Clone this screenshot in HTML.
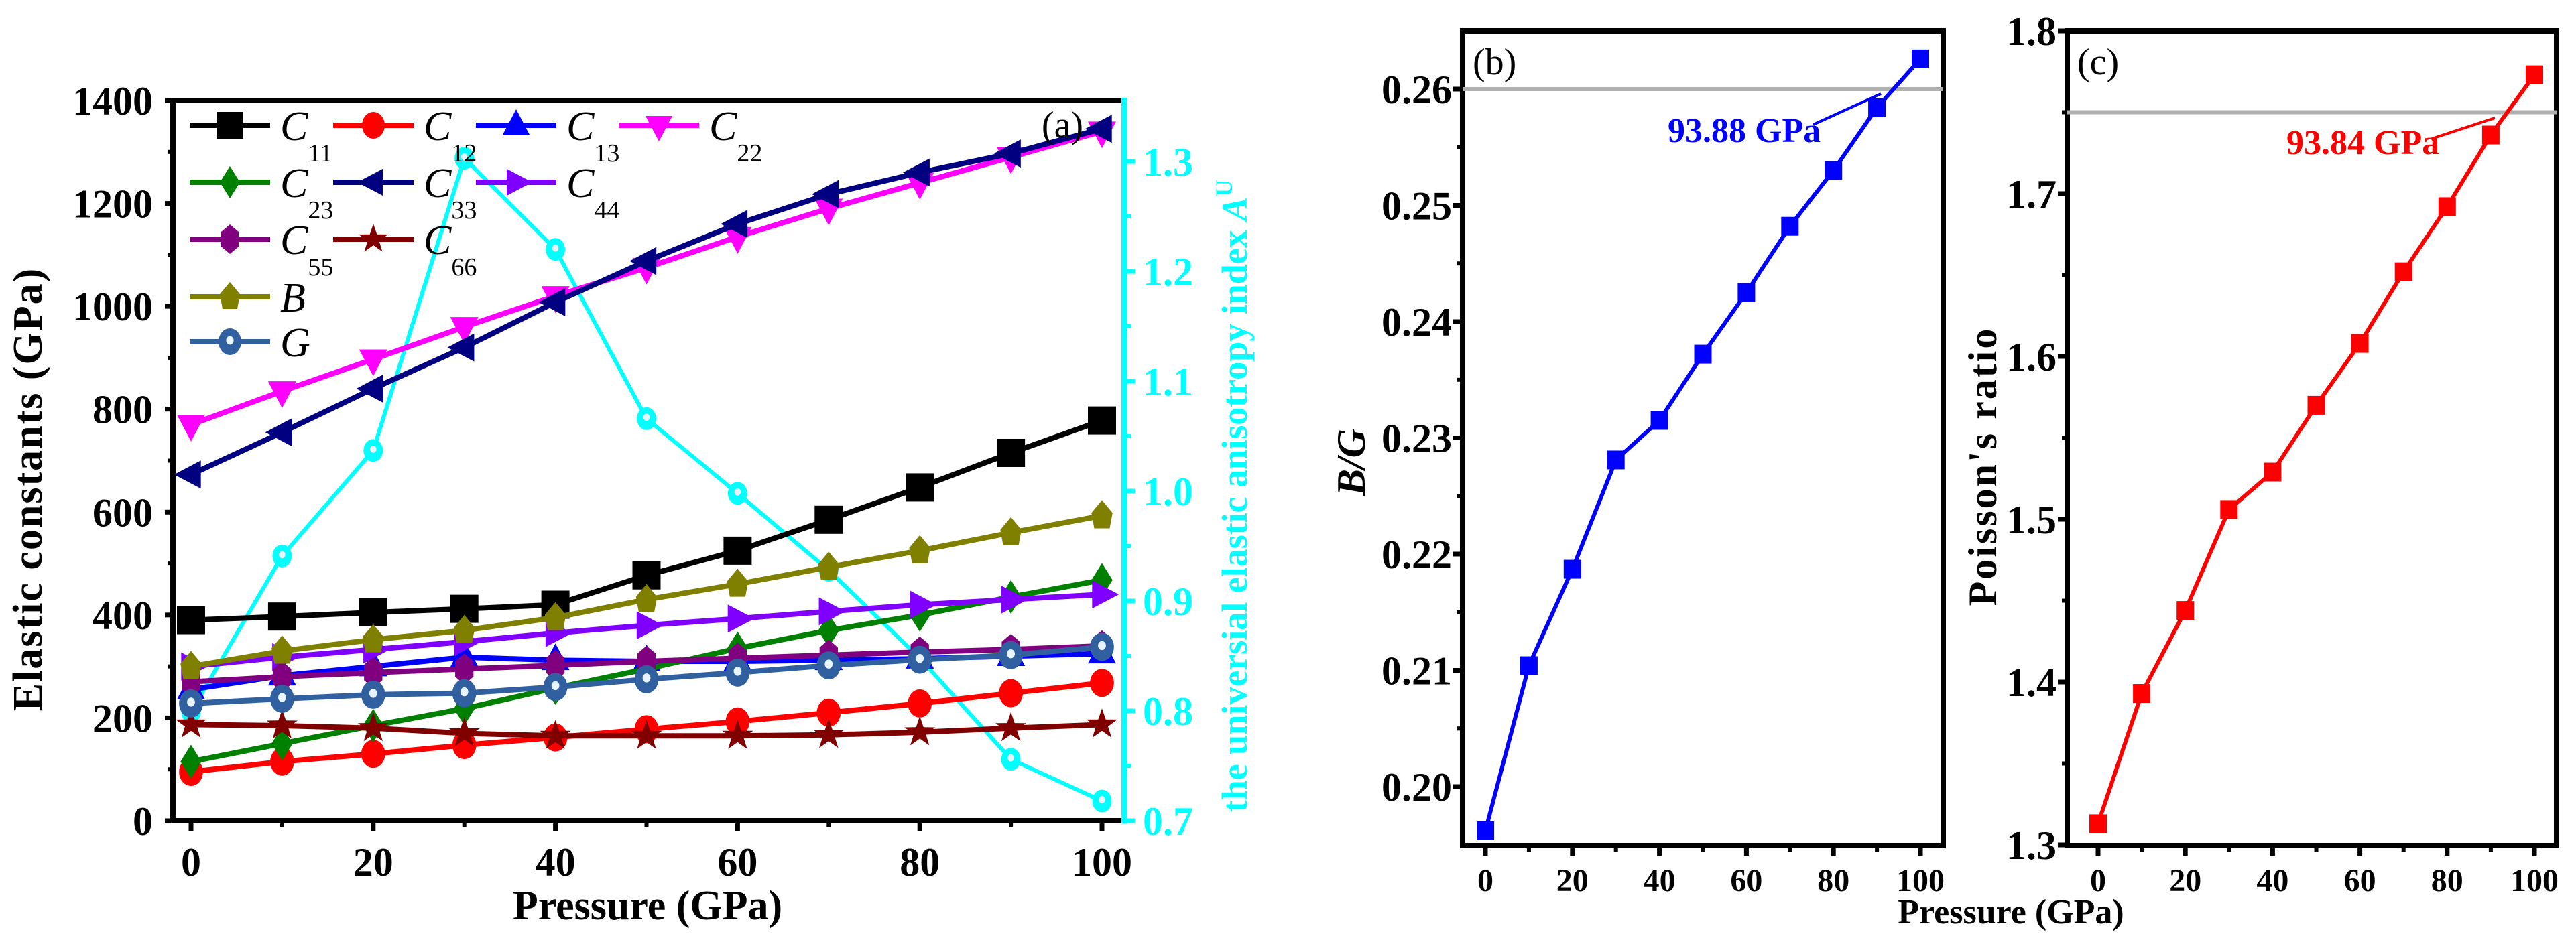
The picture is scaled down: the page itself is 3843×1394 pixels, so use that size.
<!DOCTYPE html>
<html><head><meta charset="utf-8"><style>
html,body{margin:0;padding:0;background:#fff;}
svg{display:block;}
</style></head><body>
<svg id="fig" width="3843" height="1394" viewBox="0 0 3843 1394" xmlns="http://www.w3.org/2000/svg" font-family="Liberation Serif, serif" font-weight="bold">
<g id="pa"></g>
<g id="pb"></g>
<g id="pc"></g>
</svg>
<script>
const pressures=[0,10,20,30,40,50,60,70,80,90,100];
const C11=[390,397,405,412,420,477,525,585,648,715,778];
const C12=[95,115,130,147,162,178,193,210,228,248,268];
const C13=[255,282,300,318,312,310,310,312,315,320,325];
const C22=[770,835,897,960,1020,1075,1135,1190,1240,1290,1340];
const C23=[115,150,185,218,258,295,335,370,400,435,468];
const C33=[673,755,840,920,1008,1088,1160,1218,1260,1297,1345];
const C44=[300,318,333,348,365,380,393,407,420,430,440];
const C55=[270,280,288,295,302,310,316,322,328,333,340];
const C66=[187,185,180,170,165,165,165,167,172,180,187];
const Bv=[300,330,352,370,395,430,460,493,525,560,593];
const Gv=[228,237,245,248,260,275,288,302,313,322,338];
const AU=[0.799,0.941,1.037,1.303,1.220,1.066,0.998,0.928,0.848,0.756,0.718];
const BG=[0.1962,0.2104,0.2187,0.2281,0.2315,0.2372,0.2425,0.2482,0.2530,0.2584,0.2626];
const PR=[1.313,1.393,1.444,1.506,1.529,1.570,1.608,1.652,1.692,1.736,1.773];
const xTicks=[0,20,40,60,80,100];
const yTicksA=[0,200,400,600,800,1000,1200,1400];
const yTicksAU=[0.7,0.8,0.9,1.0,1.1,1.2,1.3];
const yTicksBG=[0.20,0.21,0.22,0.23,0.24,0.25,0.26];
const yTicksPR=[1.3,1.4,1.5,1.6,1.7,1.8];

const NS="http://www.w3.org/2000/svg";
function mk(parent,tag,attrs,text){const e=document.createElementNS(NS,tag);for(const k in attrs)e.setAttribute(k,attrs[k]);if(text!==undefined)e.textContent=text;parent.appendChild(e);return e;}
function lin(d0,d1,r0,r1){return v=>r0+(v-d0)*(r1-r0)/(d1-d0);}

function marker(g,type,x,y,s,fill){
  let e;const h=s/2;
  if(type==='square')e=mk(g,'rect',{x:x-h,y:y-h,width:s,height:s,fill:fill});
  else if(type==='circle')e=mk(g,'ellipse',{cx:x,cy:y,rx:h*0.85,ry:h,fill:fill});
  else if(type==='up')e=mk(g,'polygon',{points:`${x},${y-h*1.2} ${x-h},${y+h*0.7} ${x+h},${y+h*0.7}`,fill:fill});
  else if(type==='down')e=mk(g,'polygon',{points:`${x},${y+h*1.2} ${x-h},${y-h*0.7} ${x+h},${y-h*0.7}`,fill:fill});
  else if(type==='left')e=mk(g,'polygon',{points:`${x-h*1.2},${y} ${x+h*0.7},${y-h} ${x+h*0.7},${y+h}`,fill:fill});
  else if(type==='right')e=mk(g,'polygon',{points:`${x+h*1.2},${y} ${x-h*0.7},${y-h} ${x-h*0.7},${y+h}`,fill:fill});
  else if(type==='diamond')e=mk(g,'polygon',{points:`${x},${y-h*1.2} ${x+h*0.75},${y} ${x},${y+h*1.2} ${x-h*0.75},${y}`,fill:fill});
  else if(type==='hex')e=mk(g,'polygon',{points:`${x},${y-h*1.1} ${x+h*0.65},${y-h*0.55} ${x+h*0.65},${y+h*0.55} ${x},${y+h*1.1} ${x-h*0.65},${y+h*0.55} ${x-h*0.65},${y-h*0.55}`,fill:fill});
  else if(type==='pent')e=mk(g,'polygon',{points:`${x},${y-h*1.1} ${x+h*0.75},${y-h*0.2} ${x+h*0.55},${y+h*0.9} ${x-h*0.55},${y+h*0.9} ${x-h*0.75},${y-h*0.2}`,fill:fill});
  else if(type==='star'){let p=[];for(let i=0;i<10;i++){const r=i%2?h*0.45:h*1.15;const a=-Math.PI/2+i*Math.PI/5;p.push((x+r*Math.cos(a)).toFixed(1)+','+(y+r*Math.sin(a)).toFixed(1));}e=mk(g,'polygon',{points:p.join(' '),fill:fill});}
  else if(type==='ball'){e=mk(g,'ellipse',{cx:x,cy:y,rx:h*0.85,ry:h,fill:fill});mk(g,'ellipse',{cx:x,cy:y-2,rx:h*0.28,ry:h*0.32,fill:'#e8f4ff'});}
  return e;
}

/* ---------- Panel A ---------- */
const pa=document.getElementById('pa');
const ax=lin(0,100,285,1644), ay=lin(0,1400,1225,150), ayR=lin(0.7,1.3,1225,241);
const seriesA=[
 {name:'C11',sub:'11',data:C11,color:'#000000',m:'square'},
 {name:'C12',sub:'12',data:C12,color:'#ff0000',m:'circle'},
 {name:'C13',sub:'13',data:C13,color:'#0000ff',m:'up'},
 {name:'C22',sub:'22',data:C22,color:'#ff00ff',m:'down'},
 {name:'C23',sub:'23',data:C23,color:'#008000',m:'diamond'},
 {name:'C33',sub:'33',data:C33,color:'#000080',m:'left'},
 {name:'C44',sub:'44',data:C44,color:'#8000ff',m:'right'},
 {name:'C55',sub:'55',data:C55,color:'#800080',m:'hex'},
 {name:'C66',sub:'66',data:C66,color:'#800000',m:'star'},
 {name:'B',sub:'',data:Bv,color:'#808000',m:'pent'},
 {name:'G',sub:'',data:Gv,color:'#3060a0',m:'ball'}
];
{
 const g=mk(pa,'g',{});
 
 
 mk(g,'polyline',{points:pressures.map((p,i)=>ax(p)+','+ayR(AU[i])).join(' '),fill:'none',stroke:'#00ffff','stroke-width':6});
 AU.forEach((v,i)=>{const e=marker(g,'ball',ax(pressures[i]),ayR(v),34,'#00ffff');
  
  });
}
seriesA.forEach(s=>{
 const g=mk(pa,'g',{});
 
 
 mk(g,'polyline',{points:pressures.map((p,i)=>ax(p)+','+ay(s.data[i])).join(' '),fill:'none',stroke:s.color,'stroke-width':8});
 s.data.forEach((v,i)=>{const e=marker(g,s.m,ax(pressures[i]),ay(v),42,s.color);
  
  });
});
mk(pa,'line',{x1:258,y1:150,x2:1677,y2:150,stroke:'#000','stroke-width':8,});
mk(pa,'line',{x1:258,y1:146,x2:258,y2:1229,stroke:'#000','stroke-width':8,});
mk(pa,'line',{x1:254,y1:1225,x2:1677,y2:1225,stroke:'#000','stroke-width':8,});
mk(pa,'line',{x1:1677,y1:146,x2:1677,y2:1229,stroke:'#00ffff','stroke-width':8,});
yTicksA.forEach(v=>{const y=ay(v);
 mk(pa,'line',{x1:246,y1:y,x2:258,y2:y,stroke:'#000','stroke-width':7});
 const t=mk(pa,'text',{x:228,y:y+21,'text-anchor':'end','font-size':60},v);
 
 
 if(v<1400)mk(pa,'line',{x1:250,y1:ay(v+100),x2:258,y2:ay(v+100),stroke:'#000','stroke-width':6});
});
xTicks.forEach(v=>{const x=ax(v);
 mk(pa,'line',{x1:x,y1:1225,x2:x,y2:1240,stroke:'#000','stroke-width':7});
 if(v<100)mk(pa,'line',{x1:ax(v+10),y1:1225,x2:ax(v+10),y2:1234,stroke:'#000','stroke-width':6});
 const t=mk(pa,'text',{x:x,y:1307,'text-anchor':'middle','font-size':60},v);
 
 
});
yTicksAU.forEach(v=>{const y=ayR(v);
 mk(pa,'line',{x1:1677,y1:y,x2:1693,y2:y,stroke:'#00ffff','stroke-width':7});
 if(v<1.3)mk(pa,'line',{x1:1677,y1:ayR(v+0.05),x2:1687,y2:ayR(v+0.05),stroke:'#00ffff','stroke-width':6});
 const t=mk(pa,'text',{x:1705,y:y+21,'font-size':60,fill:'#00ffff'},v.toFixed(1));
 
 
});
mk(pa,'text',{x:966,y:1372,'text-anchor':'middle','font-size':62,},'Pressure (GPa)');
mk(pa,'text',{x:0,y:0,transform:'translate(62,730) rotate(-90)','text-anchor':'middle','font-size':62,'letter-spacing':'2',},'Elastic constants (GPa)');
{const t=mk(pa,'text',{x:0,y:0,transform:'translate(1860,740) rotate(-90)','text-anchor':'middle','font-size':54,fill:'#00ffff',},'the universial elastic anisotropy index ');
 mk(t,'tspan',{'font-style':'italic'},'A');mk(t,'tspan',{'font-size':36,dy:-22},'U');}
mk(pa,'text',{x:1585,y:205,'text-anchor':'middle','font-size':56,'font-weight':'normal',},'(a)');
const legPos=[[283,187],[497,187],[710,187],[923,187],[283,272],[497,272],[710,272],[283,357],[497,357],[283,443],[283,510]];
seriesA.forEach((s,i)=>{const [x,y]=legPos[i];
 const g=mk(pa,'g',{});
 
 
 mk(g,'line',{x1:x,y1:y,x2:x+120,y2:y,stroke:s.color,'stroke-width':8});
 marker(g,s.m,x+60,y,40,s.color);
 const t=mk(g,'text',{x:x+135,y:y+22,'font-size':62,'font-style':'italic','font-weight':'normal'},s.name[0]);
 if(s.sub)mk(t,'tspan',{'font-size':38,'font-style':'normal',dy:32},s.sub);
});

/* ---------- Panels B and C ---------- */
function smallPanel(g,cfg){
 const fx=lin(0,100,cfg.x0,cfg.x100), fy=lin(cfg.v0,cfg.v1,cfg.y0,cfg.y1);
 const L=cfg.left,R=cfg.right,T=cfg.top,Bt=cfg.bottom;
 mk(g,'rect',{x:L,y:T,width:R-L,height:Bt-T,fill:'none',stroke:'#000','stroke-width':8,});
 mk(g,'line',{x1:L,y1:fy(cfg.ref),x2:R,y2:fy(cfg.ref),stroke:'#b0b0b0','stroke-width':6,});
 cfg.ticks.forEach(v=>{const y=fy(v);
  mk(g,'line',{x1:L-14,y1:y,x2:L,y2:y,stroke:'#000','stroke-width':7});
  const t=mk(g,'text',{x:L-16,y:y+21,'text-anchor':'end','font-size':60},v.toFixed(cfg.dec));
  
  
  const mv=v+cfg.step/2; if(fy(mv)>T+5) mk(g,'line',{x1:L-8,y1:fy(mv),x2:L,y2:fy(mv),stroke:'#000','stroke-width':6});
 });
 const mv0=cfg.ticks[0]-cfg.step/2; if(fy(mv0)<Bt-5) mk(g,'line',{x1:L-8,y1:fy(mv0),x2:L,y2:fy(mv0),stroke:'#000','stroke-width':6});
 xTicks.forEach(v=>{const x=fx(v);
  mk(g,'line',{x1:x,y1:Bt,x2:x,y2:Bt+15,stroke:'#000','stroke-width':7});
  if(v<100)mk(g,'line',{x1:fx(v+10),y1:Bt,x2:fx(v+10),y2:Bt+9,stroke:'#000','stroke-width':6});
  const t=mk(g,'text',{x:x,y:1330,'text-anchor':'middle','font-size':48},v);
  
  
 });
 const sg=mk(g,'g',{});
 
 
 mk(sg,'polyline',{points:pressures.map((p,i)=>fx(p)+','+fy(cfg.data[i])).join(' '),fill:'none',stroke:cfg.color,'stroke-width':6});
 cfg.data.forEach((v,i)=>{const e=mk(sg,'rect',{x:fx(pressures[i])-13,y:fy(v)-14,width:26,height:28,fill:cfg.color});
  
  });
 mk(g,'text',{x:L+15,y:T+65,'font-size':56,'font-weight':'normal',},cfg.label);
 mk(g,'line',{x1:cfg.ann[2],y1:cfg.ann[3],x2:cfg.ann[4],y2:cfg.ann[5],stroke:cfg.color,'stroke-width':4,});
 mk(g,'text',{x:cfg.ann[0],y:cfg.ann[1],'font-size':52,fill:cfg.color,},cfg.annText);
}
smallPanel(document.getElementById('pb'),{id:'bg',left:2182,right:2899,top:46,bottom:1262,x0:2216,x100:2865,v0:0.20,v1:0.26,y0:1174,y1:133,
 ref:0.26,ticks:yTicksBG,step:0.01,dec:2,data:BG,color:'#0000ff',label:'(b)',annText:'93.88 GPa',ann:[2488,212,2705,186,2806,140]});
smallPanel(document.getElementById('pc'),{id:'poisson',left:3084,right:3814,top:46,bottom:1262,x0:3130,x100:3781,v0:1.3,v1:1.8,y0:1261,y1:46,
 ref:1.75,ticks:yTicksPR,step:0.1,dec:1,data:PR,color:'#ff0000',label:'(c)',annText:'93.84 GPa',ann:[3411,230,3628,207,3722,176]});
const pb=document.getElementById('pb');
mk(pb,'text',{x:0,y:0,transform:'translate(2036,690) rotate(-90)','text-anchor':'middle','font-size':60,'font-style':'italic',},'B/G');
mk(document.getElementById('pc'),'text',{x:0,y:0,transform:'translate(2978,696) rotate(-90)','text-anchor':'middle','font-size':60,'letter-spacing':'3',},"Poisson's ratio");
mk(pb,'text',{x:3000,y:1378,'text-anchor':'middle','font-size':52,},'Pressure (GPa)');
</script>
</body></html>
